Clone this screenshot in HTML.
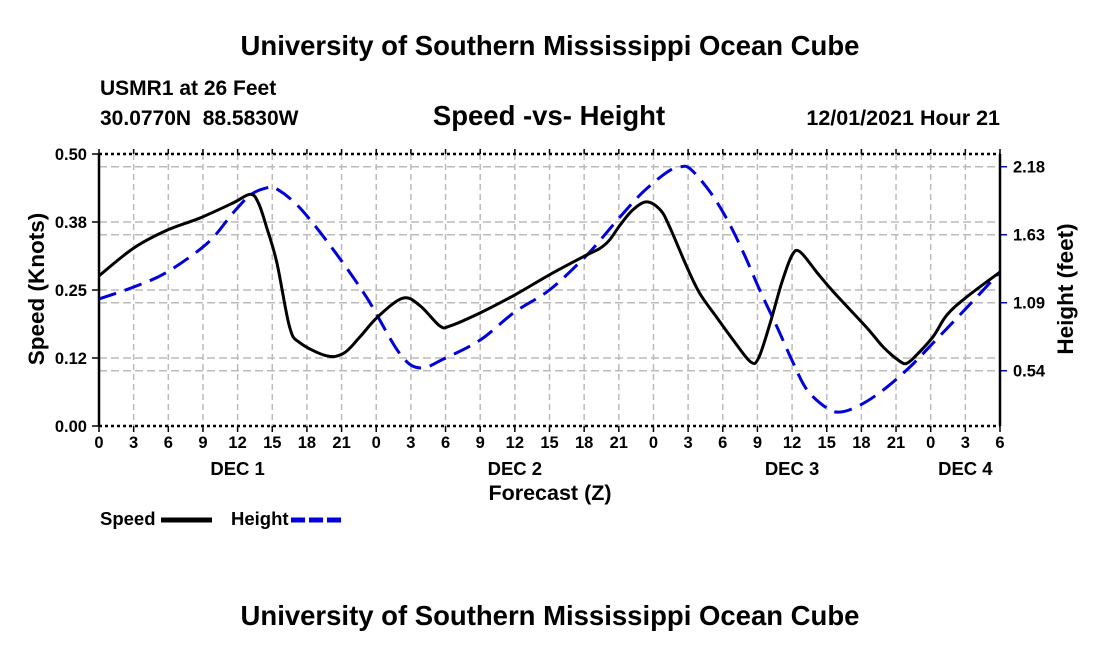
<!DOCTYPE html>
<html><head><meta charset="utf-8"><style>
body{margin:0;background:#fff;width:1100px;height:650px;overflow:hidden}
svg text{font-family:"Liberation Sans",sans-serif;font-weight:bold;fill:#000;white-space:pre}
</style></head><body>
<svg id="c" width="1100" height="650">
<text x="550" y="55" font-size="27.5" text-anchor="middle">University of Southern Mississippi Ocean Cube</text>
<text x="100" y="95" font-size="21">USMR1 at 26 Feet</text>
<text x="100" y="125" font-size="21">30.0770N  88.5830W</text>
<text x="549" y="125" font-size="27.5" text-anchor="middle">Speed -vs- Height</text>
<text x="1000" y="125" font-size="21.5" text-anchor="end">12/01/2021 Hour 21</text>
<g id="grid"></g>
<g id="axes"></g>
<g id="series"></g>
<text transform="translate(44,289) rotate(-90)" font-size="22.5" text-anchor="middle">Speed (Knots)</text>
<text transform="translate(1073,289) rotate(-90)" font-size="22.5" text-anchor="middle">Height (feet)</text>
<text x="550" y="500" font-size="21.5" text-anchor="middle">Forecast (Z)</text>
<g>
<text x="100" y="525" font-size="18.5">Speed</text>
<line x1="161" y1="520" x2="212" y2="520" stroke="#000" stroke-width="5"/>
<text x="231" y="525" font-size="18.5">Height</text>
<line x1="291" y1="520" x2="342" y2="520" stroke="#0000dd" stroke-width="5" stroke-dasharray="14,4"/>
</g>
<text x="550" y="625" font-size="27.5" text-anchor="middle">University of Southern Mississippi Ocean Cube</text>
</svg>
<script>
const xTickLabels=["0","3","6","9","12","15","18","21","0","3","6","9","12","15","18","21","0","3","6","9","12","15","18","21","0","3","6"];
const dayLabels=["DEC 1","DEC 2","DEC 3","DEC 4"];
const dayHours=[12,36,60,75];
const leftTicks=[0,0.125,0.25,0.375,0.5];
const leftTickLabels=["0.00","0.12","0.25","0.38","0.50"];
const rightTicks=[0.545,1.09,1.635,2.18];
const rightTickLabels=["0.54","1.09","1.63","2.18"];
const speedHours=[0,3,5.9,8.7,11.6,13.1,13.8,14.5,15.4,16.5,17.4,19.7,21.2,22.6,24.1,26.3,27.8,29.5,30.4,33,36,39,42,43.4,44.2,45.1,46.2,47.4,48.6,49.4,50.9,52,53.5,54.9,56.4,57.1,58.1,59.1,60,60.7,62.2,63.6,66.5,67.9,69.4,70,70.8,72.2,73.4,75.1,78];
const speedValues=[.276,.327,.360,.382,.410,.426,.410,.366,.300,.182,.153,.129,.134,.164,.200,.235,.221,.184,.184,.208,.241,.278,.312,.327,.342,.369,.397,.412,.397,.366,.292,.244,.199,.158,.118,.125,.189,.263,.314,.320,.281,.246,.180,.145,.118,.116,.131,.164,.204,.237,.283];
const heightHours=[0,3,5.9,9.4,11.6,13.1,14.5,15.4,17.4,20.3,23.2,26,27.8,30,33,36,39,42,43.4,45.1,47.1,49.2,50.3,51.2,52.9,54.4,55.8,57.2,58.7,60.1,61.3,63,64.2,65.9,67.9,70.2,72.2,75.1,78];
const heightValues=[1.120,1.216,1.336,1.569,1.809,1.953,2.010,2.002,1.849,1.513,1.128,.687,.567,.647,.791,1.016,1.192,1.449,1.593,1.777,1.978,2.138,2.178,2.162,1.978,1.753,1.489,1.192,.895,.607,.391,.246,.214,.270,.391,.575,.767,1.048,1.336];

const X0=99,X1=1000,Y0=426,Y1=154;
const xs=h=>X0+h/78*(X1-X0);
const ysL=v=>Y0-v/0.5*(Y0-Y1);
const HMIN=0.102,HMAX=2.282;
const ysR=v=>Y0-(v-HMIN)/(HMAX-HMIN)*(Y0-Y1);
const NS="http://www.w3.org/2000/svg";
function mk(parent,tag,attrs){const e=document.createElementNS(NS,tag);for(const k in attrs)e.setAttribute(k,attrs[k]);document.getElementById(parent).appendChild(e);return e;}

xTickLabels.forEach((t,i)=>{const x=xs(i*3);
 if(i>0&&i<xTickLabels.length-1){const l=mk('grid','line',{x1:x,x2:x,y1:Y1,y2:Y0,stroke:'#bbb','stroke-width':1.5,'stroke-dasharray':'6,4'});
 
 }
 const tk=mk('axes','line',{x1:x,x2:x,y1:Y0,y2:Y0+6,stroke:'#000','stroke-width':1.5});
 
 
 const tt=mk('axes','line',{x1:x,x2:x,y1:Y1,y2:Y1-5,stroke:'#000','stroke-width':1.5});
 
 
 const tx=mk('axes','text',{x:x,y:448,'font-size':16.5,'text-anchor':'middle'});tx.textContent=t;
 
 
});
dayLabels.forEach((d,i)=>{const tx=mk('axes','text',{x:xs(dayHours[i]),y:475,'font-size':18.5,'text-anchor':'middle'});tx.textContent=d;
 
 });
leftTicks.forEach((v,i)=>{const y=ysL(v);
 if(i>0&&i<leftTicks.length-1){const l=mk('grid','line',{x1:X0,x2:X1,y1:y,y2:y,stroke:'#bbb','stroke-width':1.5,'stroke-dasharray':'8,4'});
 
 }
 const tk=mk('axes','line',{x1:X0-7,x2:X0,y1:y,y2:y,stroke:'#000','stroke-width':1.5});
 
 
 const tx=mk('axes','text',{x:87,y:y+6,'font-size':16.5,'text-anchor':'end'});tx.textContent=leftTickLabels[i];
 
 });
rightTicks.forEach((v,i)=>{const y=ysR(v);
 const l=mk('grid','line',{x1:X0,x2:X1,y1:y,y2:y,stroke:'#bbb','stroke-width':1.5,'stroke-dasharray':'8,4'});
 
 
 const tk=mk('axes','line',{x1:X1,x2:X1+7,y1:y,y2:y,stroke:'#0000dd','stroke-width':1.5});
 
 
 const tx=mk('axes','text',{x:1013,y:y+6,'font-size':16.5});tx.textContent=rightTickLabels[i];
 
 });
[[X0,Y1,X0,Y0,'none'],[X1,Y1,X1,Y0,'none'],[X0,Y0,X1,Y0,'3,3'],[X0,Y1,X1,Y1,'3,3']].forEach(a=>{
 const l=mk('axes','line',{x1:a[0],y1:a[1],x2:a[2],y2:a[3],stroke:'#000','stroke-width':2.5,'stroke-dasharray':a[4]});
 
 });
function smooth(pts){let d=`M${pts[0][0]},${pts[0][1]}`;
 for(let i=0;i<pts.length-1;i++){const p0=pts[Math.max(0,i-1)],p1=pts[i],p2=pts[i+1],p3=pts[Math.min(pts.length-1,i+2)];
 const c1=[p1[0]+(p2[0]-p0[0])/6,p1[1]+(p2[1]-p0[1])/6],c2=[p2[0]-(p3[0]-p1[0])/6,p2[1]-(p3[1]-p1[1])/6];
 d+=` C${c1[0]},${c1[1]} ${c2[0]},${c2[1]} ${p2[0]},${p2[1]}`;}return d;}
const hp=mk('series','path',{d:smooth(heightHours.map((h,i)=>[xs(h),ysR(heightValues[i])])),fill:'none',stroke:'#0000dd','stroke-width':3,'stroke-dasharray':'18,9'});


const sp=mk('series','path',{d:smooth(speedHours.map((h,i)=>[xs(h),ysL(speedValues[i])])),fill:'none',stroke:'#000','stroke-width':3});


</script>
</body></html>
